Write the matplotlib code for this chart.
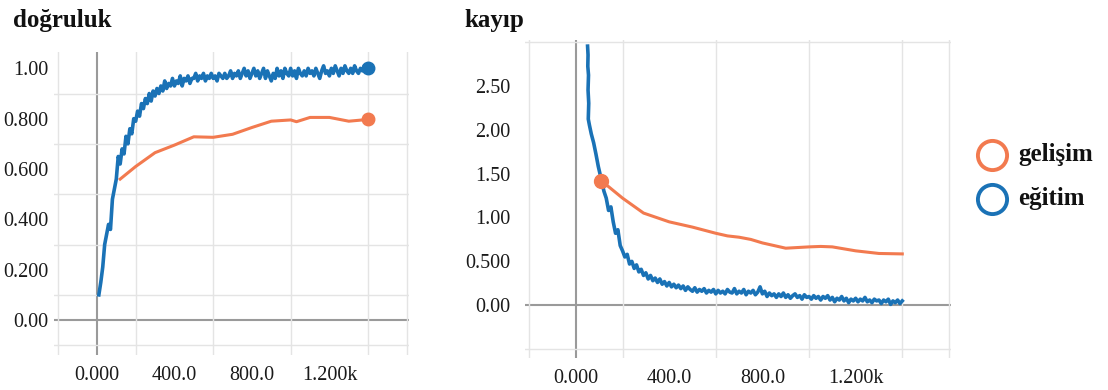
import matplotlib
matplotlib.use('Agg')
import matplotlib.pyplot as plt
from matplotlib.lines import Line2D
import numpy as np

plt.rcParams['font.family'] = ['Liberation Serif', 'DejaVu Serif']

BLUE = '#1a72b6'
ORANGE = '#f27a4f'

# accuracy (doğruluk) - training
acc_train_steps = list(range(10, 1401, 10))
acc_train = [0.10, 0.15, 0.21, 0.30, 0.34, 0.38, 0.36, 0.48, 0.52, 0.56,
             0.65, 0.62, 0.68, 0.66, 0.73, 0.70, 0.76, 0.74, 0.80, 0.79,
             0.83, 0.81, 0.86, 0.84, 0.88, 0.86, 0.90, 0.87, 0.91, 0.89,
             0.92, 0.90, 0.93, 0.91, 0.95, 0.92, 0.94, 0.93, 0.96, 0.93,
             0.95, 0.94, 0.97, 0.93, 0.96, 0.95, 0.97, 0.94, 0.96, 0.96,
             0.98, 0.95, 0.97, 0.96, 0.98, 0.95, 0.97, 0.96, 0.98, 0.96,
             0.97, 0.95, 0.98, 0.97, 0.96, 0.98, 0.96, 0.97, 0.99, 0.96,
             0.98, 0.97, 0.99, 0.96, 0.98, 1.00, 0.97, 0.99, 0.96, 0.98,
             1.00, 0.97, 0.99, 0.96, 0.98, 1.00, 0.96, 0.99, 0.97, 0.95,
             0.98, 0.96, 1.00, 0.97, 0.99, 0.96, 1.00, 0.98, 0.97, 1.00,
             0.97, 0.99, 0.96, 1.00, 0.98, 0.97, 0.99, 0.97, 1.00, 0.98,
             0.99, 0.97, 1.00, 0.98, 0.96, 0.99, 1.01, 0.98, 0.99, 0.97,
             1.00, 0.98, 1.01, 0.99, 0.97, 1.00, 0.98, 1.01, 0.99, 0.98,
             1.00, 0.98, 1.01, 0.99, 0.98, 1.00, 0.99, 1.01, 0.99, 1.00]

# accuracy - evaluation
acc_eval_steps = [120, 200, 300, 400, 500, 600, 700, 800, 900, 1000, 1030,
                  1100, 1200, 1300, 1400]
acc_eval = [0.56, 0.61, 0.665, 0.695, 0.728, 0.726, 0.738, 0.765, 0.79,
            0.795, 0.788, 0.805, 0.805, 0.79, 0.797]

# loss (kayıp) - training
loss_train_steps = [50, 52, 51, 54, 52, 55, 53, 58, 66, 76, 86, 96] + \
    list(range(110, 1401, 10))
loss_train = [2.95, 2.85, 2.72, 2.62, 2.45, 2.30, 2.12, 2.05, 1.95, 1.85,
              1.72, 1.58,
              1.42, 1.30, 1.22, 1.08, 1.12, 0.95, 0.82, 0.86, 0.68, 0.62,
              0.55, 0.58, 0.47, 0.50, 0.42, 0.46, 0.38, 0.41, 0.34, 0.37,
              0.30, 0.34, 0.28, 0.31, 0.26, 0.30, 0.24, 0.27, 0.22, 0.26,
              0.21, 0.24, 0.20, 0.23, 0.19, 0.22, 0.17, 0.21, 0.18, 0.16,
              0.20, 0.15, 0.18, 0.16, 0.19, 0.14, 0.17, 0.15, 0.18, 0.13,
              0.17, 0.14, 0.16, 0.13, 0.18, 0.15, 0.14, 0.19, 0.13, 0.16,
              0.14, 0.18, 0.12, 0.16, 0.14, 0.17, 0.12, 0.15, 0.21, 0.13,
              0.16, 0.10, 0.14, 0.11, 0.13, 0.09, 0.13, 0.10, 0.14, 0.09,
              0.12, 0.08, 0.11, 0.13, 0.09, 0.11, 0.07, 0.12, 0.09, 0.10,
              0.07, 0.11, 0.08, 0.10, 0.06, 0.10, 0.08, 0.11, 0.06, 0.09,
              0.04, 0.08, 0.06, 0.10, 0.05, 0.08, 0.03, 0.07, 0.05, 0.08,
              0.04, 0.07, 0.05, 0.09, 0.04, 0.06, 0.03, 0.07, 0.05, 0.06,
              0.02, 0.06, 0.04, 0.07, 0.01, 0.05, 0.03, 0.06, 0.02, 0.05]

# loss - evaluation
loss_eval_steps = [108, 200, 290, 400, 500, 600, 650, 700, 750, 800, 900,
                   1000, 1050, 1100, 1200, 1300, 1400]
loss_eval = [1.42, 1.22, 1.05, 0.95, 0.89, 0.82, 0.79, 0.775, 0.75, 0.71,
             0.65, 0.665, 0.67, 0.665, 0.62, 0.59, 0.585]

x_ticks = [0, 400, 800, 1200]
x_labels = ['0.000', '400.0', '800.0', '1.200k']
acc_ticks = [0.0, 0.2, 0.4, 0.6, 0.8, 1.0]
acc_labels = ['0.00', '0.200', '0.400', '0.600', '0.800', '1.00']
loss_ticks = [0.0, 0.5, 1.0, 1.5, 2.0, 2.5]
loss_labels = ['0.00', '0.500', '1.00', '1.50', '2.00', '2.50']

fig = plt.figure(figsize=(11.08, 3.9), dpi=100)
ax1 = fig.add_axes([0.049, 0.0897, 0.320, 0.7770])
ax2 = fig.add_axes([0.4735, 0.082, 0.3850, 0.8155])


def style_axes(ax, ylim, ygrid, yticks, ylabels, ypad):
    ax.set_xlim(-220, 1610)
    ax.set_ylim(*ylim)
    for s in ax.spines.values():
        s.set_visible(False)
    ax.set_xticks(x_ticks)
    ax.set_xticklabels(x_labels)
    ax.set_yticks(yticks)
    ax.set_yticklabels(ylabels)
    ax.set_xticks(np.arange(-200, 1601, 200), minor=True)
    ax.set_yticks(ygrid, minor=True)
    ax.tick_params(which='both', length=0)
    ax.tick_params(axis='x', labelsize=14.5, pad=8, colors='#1a1a1a')
    ax.tick_params(axis='y', labelsize=14.5, pad=ypad, colors='#1a1a1a')
    ax.grid(which='minor', color='#e4e4e4', linewidth=1.0)
    ax.grid(which='major', visible=False)
    ax.axvline(0, color='#9a9a9a', linewidth=1.5, zorder=1)
    ax.axhline(0, color='#9a9a9a', linewidth=1.5, zorder=1)


style_axes(ax1, (-0.139, 1.065), np.arange(-0.1, 1.01, 0.1),
           acc_ticks, acc_labels, 4)
style_axes(ax2, (-0.6, 3.02), np.arange(-0.5, 3.01, 0.5),
           loss_ticks, loss_labels, 10)

ax1.plot(acc_train_steps, acc_train, color=BLUE, linewidth=2.6, zorder=3)
ax1.plot(acc_eval_steps, acc_eval, color=ORANGE, linewidth=2.2, zorder=3)
ax1.plot(acc_train_steps[-1], acc_train[-1], 'o', color=BLUE,
         markersize=9, zorder=4)
ax1.plot(acc_eval_steps[-1], acc_eval[-1], 'o', color=ORANGE,
         markersize=9, zorder=4)

ax2.plot(loss_train_steps, loss_train, color=BLUE, linewidth=2.6, zorder=3)
ax2.plot(loss_eval_steps, loss_eval, color=ORANGE, linewidth=2.2, zorder=3)
ax2.plot(loss_eval_steps[0], loss_eval[0], 'o', color=ORANGE,
         markersize=10, zorder=4)

fig.text(0.012, 0.947, 'doğruluk', fontsize=18, fontweight='bold',
         va='center', ha='left', color='#111111')
fig.text(0.419, 0.947, 'kayıp', fontsize=18, fontweight='bold',
         va='center', ha='left', color='#111111')

# legend
for y, c, name in [(0.603, ORANGE, 'gelişim'), (0.49, BLUE, 'eğitim')]:
    fig.add_artist(Line2D([0.895], [y], marker='o', markersize=21,
                          markerfacecolor='white', markeredgecolor=c,
                          markeredgewidth=2.8, transform=fig.transFigure))
    fig.text(0.919, y, name, fontsize=18, fontweight='bold', va='center',
             ha='left', color='#111111')

fig.savefig('out.png', dpi=100)
